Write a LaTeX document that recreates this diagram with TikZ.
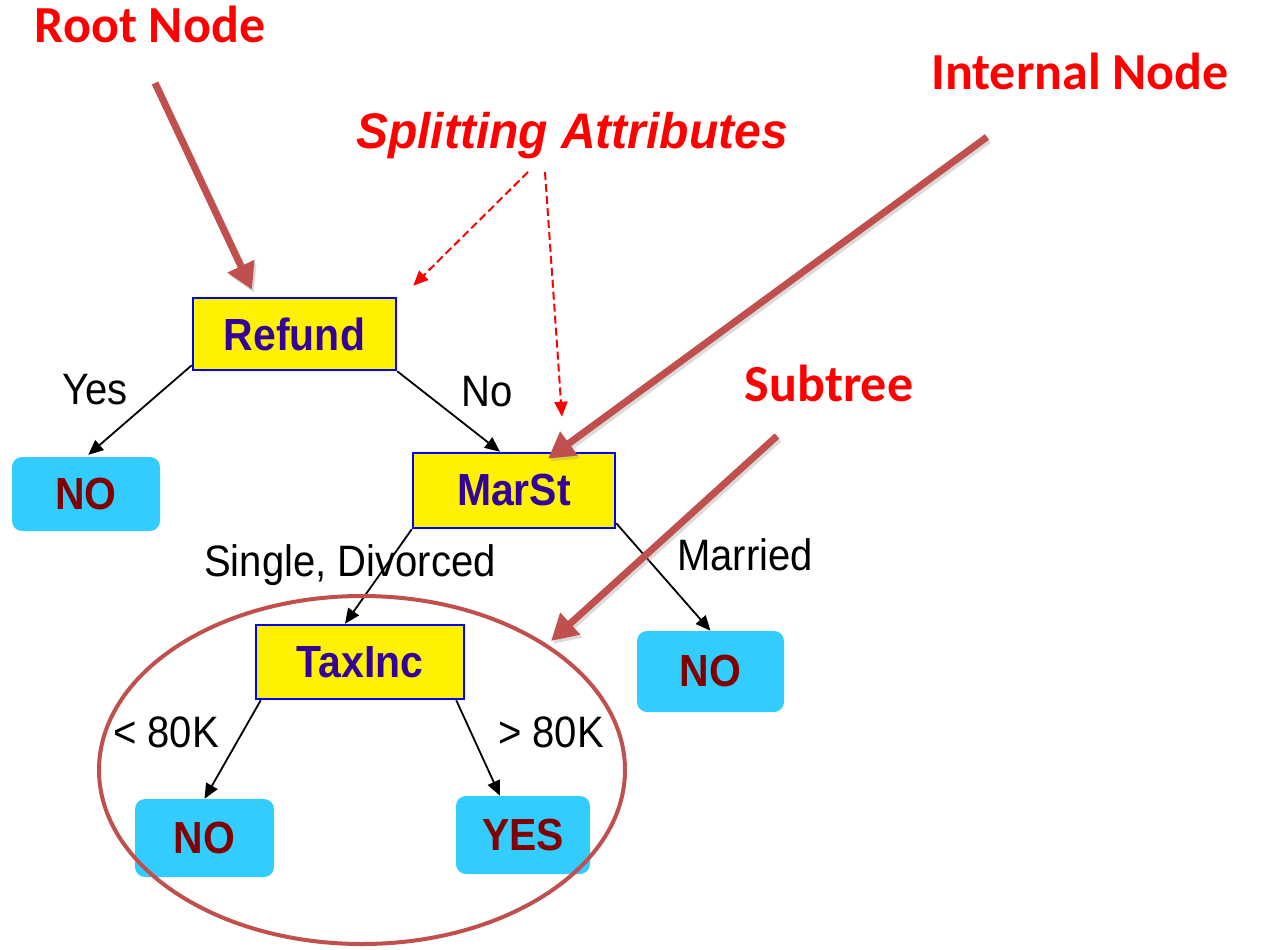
\documentclass[tikz,border=0pt]{standalone}
\usepackage{graphicx}
\usepackage{fontspec}
\setmainfont{Liberation Sans}
\newfontfamily\calibfont{Carlito}
\usetikzlibrary{arrows.meta,shapes.geometric,calc}
\definecolor{boxblue}{RGB}{0,0,255}
\definecolor{boxtext}{RGB}{51,0,153}
\definecolor{leafcyan}{RGB}{51,204,255}
\definecolor{leaftext}{RGB}{128,0,0}
\definecolor{callout}{RGB}{192,80,77}
\definecolor{titlered}{RGB}{255,0,0}
\newcommand{\narrowtext}[1]{\scalebox{0.91}[1]{#1}}
\begin{document}
\begin{tikzpicture}[x=1pt,y=-1pt,
 attrbox/.style={draw=boxblue, line width=2.5pt, fill=yellow, text=boxtext, font=\fontsize{45}{50}\selectfont\bfseries, inner sep=0pt},
 leafbox/.style={fill=leafcyan, rounded corners=10pt, text=leaftext, font=\fontsize{45}{50}\selectfont\bfseries, inner sep=0pt},
 edgelabel/.style={font=\fontsize{44}{50}\selectfont, anchor=base, inner sep=0pt},
 treeedge/.style={draw=black, line width=1.8pt, -{Triangle[length=15pt,width=13pt]}},
 titlelabel/.style={font=\calibfont\fontsize{52}{60}\selectfont\bfseries, text=titlered, anchor=base, inner sep=0pt},
 calloutarrow/.style={draw=callout, line width=7pt, -{Triangle[length=26pt,width=28pt]}},
 calloutshadow/.style={draw=black!40, opacity=0.35, line width=7pt, -{Triangle[length=26pt,width=28pt]}},
 splitarrow/.style={draw=titlered, line width=2pt, dash pattern=on 8pt off 4pt, -{Triangle[length=15pt,width=13pt]}}]
\useasboundingbox (0,0) rectangle (1261,950);

% titles
\node[titlelabel] (troot) at (150,43) {Root Node};
\node[titlelabel] (tint) at (1080,89) {Internal Node};
\node[titlelabel] (tsub) at (829,401) {Subtree};
\node[font=\fontsize{50}{56}\selectfont\bfseries\itshape, text=titlered, anchor=base, inner sep=0pt] (tsplit) at (572,148) {\scalebox{0.96}[1]{Splitting Attributes}};

% tree nodes
\node[attrbox, minimum width=203pt, minimum height=72pt] (refund) at (294.5,334) {\narrowtext{Refund}};
\node[attrbox, minimum width=202pt, minimum height=75pt] (marst) at (514,490.5) {\narrowtext{MarSt}};
\node[attrbox, minimum width=208pt, minimum height=74pt] (taxinc) at (360,662) {\narrowtext{TaxInc}};
\node[leafbox, minimum width=148pt, minimum height=74pt] (no1) at (86,494) {\narrowtext{NO}};
\node[leafbox, minimum width=147pt, minimum height=81pt] (no2) at (710.5,671.5) {\narrowtext{NO}};
\node[leafbox, minimum width=139pt, minimum height=78pt] (no3) at (204.5,838) {\narrowtext{NO}};
\node[leafbox, minimum width=134pt, minimum height=78pt] (yes) at (523,835) {\narrowtext{YES}};

% edge labels
\node[edgelabel] (lyes) at (95,404) {\narrowtext{Yes}};
\node[edgelabel] (lno) at (487,406) {\narrowtext{No}};
\node[edgelabel] (lsd) at (350,576) {\narrowtext{Single, Divorced}};
\node[edgelabel] (lmar) at (745,570) {\narrowtext{Married}};
\node[edgelabel] (llt) at (166,747) {\narrowtext{< 80K}};
\node[edgelabel] (lgt) at (551,747) {\narrowtext{> 80K}};

% tree edges
\draw[treeedge, shorten >=3pt] ($(refund.south west)+(0,-6)$) -- (no1.north);
\draw[treeedge] (refund.south east) -- ($(marst.north)+(-14,0)$);
\draw[treeedge] (marst.south west) -- ($(taxinc.north)+(-15,0)$);
\draw[treeedge] ($(marst.south east)+(0,-6)$) -- (no2.north);
\draw[treeedge] ($(taxinc.south west)+(6,0)$) -- (no3.north);
\draw[treeedge] ($(taxinc.south east)+(-9,0)$) -- ($(yes.north)+(-23,0)$);

% splitting attribute arrows
\coordinate (s1) at (528,172);
\coordinate (s2) at (545,172);
\draw[splitarrow] (s1) -- ($(refund.north east)+(16,-11)$);
\draw[splitarrow] (s2) -- ($(marst.north)+(48,-35)$);

% subtree ring
\node[draw=callout, line width=4pt, ellipse, minimum width=526pt, minimum height=348pt, inner sep=0pt] (subtreering) at (362,770) {};

% callout arrows
\coordinate (rtail) at (155,83);
\coordinate (itail) at (987,137);
\coordinate (stail) at (777,436);
\coordinate (rtip) at ($(refund.north)+(-42.5,-7)$);
\coordinate (itip) at ($(marst.north)+(34,7)$);
\coordinate (stip) at (551,641);
\draw[calloutshadow, transform canvas={shift={(2pt,-3pt)}}] (rtail) -- (rtip);
\draw[calloutshadow, transform canvas={shift={(2pt,-3pt)}}] (itail) -- (itip);
\draw[calloutshadow, transform canvas={shift={(2pt,-3pt)}}] (stail) -- (stip);
\draw[calloutarrow] (rtail) -- (rtip);
\draw[calloutarrow] (itail) -- (itip);
\draw[calloutarrow] (stail) -- (stip);
\end{tikzpicture}
\end{document}
